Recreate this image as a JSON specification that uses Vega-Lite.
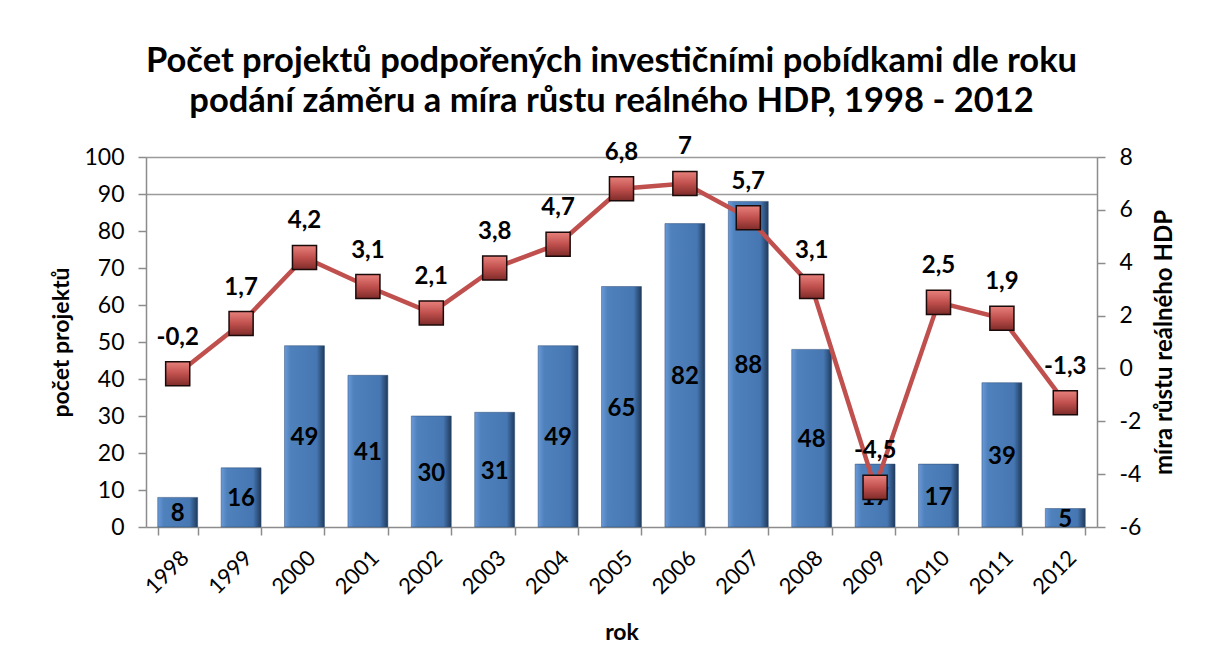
{
  "$schema": "https://vega.github.io/schema/vega-lite/v6.json",
  "width": 951,
  "height": 370,
  "autosize": {"type": "none"},
  "padding": {"left": 146, "top": 157, "right": 108, "bottom": 145},
  "background": "white",
  "config": {
    "view": {"stroke": null},
    "font": "Lato",
    "locale": {
      "number": {"decimal": ",", "thousands": " ", "grouping": [3], "currency": ["", " Kč"], "minus": "-"}
    },
    "axis": {
      "labelFont": "Lato",
      "titleFont": "Lato",
      "labelColor": "#000000",
      "titleColor": "#000000",
      "domainColor": "#8C8C8C",
      "tickColor": "#8C8C8C",
      "domainWidth": 1.5,
      "tickWidth": 1.5,
      "tickSize": 8,
      "labelFontSize": 23,
      "titleFontSize": 23,
      "titleFontWeight": "bold"
    }
  },
  "title": {
    "text": ["Počet projektů podpořených investičními pobídkami dle roku", "podání záměru a míra růstu reálného HDP, 1998 - 2012"],
    "font": "Lato",
    "fontSize": 34.5,
    "fontWeight": "bold",
    "color": "#000000",
    "anchor": "middle",
    "lineHeight": 40,
    "offset": 16,
    "dx": -10
  },
  "data": {
    "values": [
      {"rok": "1998", "projekty": 8, "hdp": -0.2},
      {"rok": "1999", "projekty": 16, "hdp": 1.7},
      {"rok": "2000", "projekty": 49, "hdp": 4.2},
      {"rok": "2001", "projekty": 41, "hdp": 3.1},
      {"rok": "2002", "projekty": 30, "hdp": 2.1},
      {"rok": "2003", "projekty": 31, "hdp": 3.8},
      {"rok": "2004", "projekty": 49, "hdp": 4.7},
      {"rok": "2005", "projekty": 65, "hdp": 6.8},
      {"rok": "2006", "projekty": 82, "hdp": 7},
      {"rok": "2007", "projekty": 88, "hdp": 5.7},
      {"rok": "2008", "projekty": 48, "hdp": 3.1},
      {"rok": "2009", "projekty": 17, "hdp": -4.5},
      {"rok": "2010", "projekty": 17, "hdp": 2.5},
      {"rok": "2011", "projekty": 39, "hdp": 1.9},
      {"rok": "2012", "projekty": 5, "hdp": -1.3}
    ]
  },
  "encoding": {
    "x": {
      "field": "rok",
      "type": "ordinal",
      "scale": {"paddingInner": 0.37, "paddingOuter": 0.185},
      "axis": {
        "title": "rok",
        "labelAngle": -45,
        "labelFontSize": 22,
        "labelPadding": 12,
        "tickBand": "extent",
        "titlePadding": 24
      }
    }
  },
  "layer": [
    {
      "mark": {
        "type": "bar",
        "stroke": "#2E4C75",
        "strokeWidth": 0.5,
        "color": {
          "gradient": "linear",
          "x1": 0, "y1": 0, "x2": 1, "y2": 0,
          "stops": [
            {"offset": 0, "color": "#6A9AD8"},
            {"offset": 0.15, "color": "#4F81BD"},
            {"offset": 0.8, "color": "#4677B2"},
            {"offset": 1, "color": "#1F3A5C"}
          ]
        }
      },
      "encoding": {
        "y": {
          "field": "projekty",
          "type": "quantitative",
          "scale": {"domain": [0, 100], "nice": false},
          "axis": {
            "orient": "left",
            "title": "počet projektů",
            "values": [0, 10, 20, 30, 40, 50, 60, 70, 80, 90, 100],
            "labelPadding": 14,
            "titlePadding": 10,
            "grid": true,
            "gridColor": "#9A9A9A",
            "gridWidth": 1.5,
            "gridOpacity": {"condition": {"test": "datum.value >= 90", "value": 1}, "value": 0}
          }
        }
      }
    },
    {
      "mark": {"type": "text", "fontSize": 24, "fontWeight": "bold", "font": "Lato", "color": "#000000", "baseline": "middle", "align": "center"},
      "encoding": {
        "y": {
          "field": "projekty",
          "type": "quantitative",
          "scale": {"domain": [0, 200], "nice": false},
          "axis": null
        },
        "yOffset": {"condition": {"test": "datum.projekty < 10", "value": -13}, "value": 2},
        "text": {"field": "projekty", "type": "quantitative"}
      }
    },
    {
      "encoding": {
        "y": {
          "field": "hdp",
          "type": "quantitative",
          "scale": {"domain": [-6, 8], "nice": false},
          "axis": {
            "orient": "right",
            "title": "míra růstu reálného HDP",
            "titleAngle": 270,
            "titleBaseline": "top",
            "titleFontSize": 24,
            "values": [-6, -4, -2, 0, 2, 4, 6, 8],
            "labelPadding": 14,
            "titlePadding": 12,
            "grid": false
          }
        }
      },
      "layer": [
        {
          "mark": {"type": "line", "color": "#C0504D", "strokeWidth": 4.5}
        },
        {
          "mark": {
            "type": "point",
            "shape": "square",
            "size": 580,
            "filled": true,
            "opacity": 1,
            "stroke": "#1A0A0A",
            "strokeWidth": 1.5,
            "color": {
              "gradient": "linear",
              "x1": 0, "y1": 0, "x2": 0, "y2": 1,
              "stops": [
                {"offset": 0, "color": "#E8817C"},
                {"offset": 0.5, "color": "#C0504D"},
                {"offset": 1, "color": "#7E2B29"}
              ]
            }
          }
        },
        {
          "mark": {"type": "text", "fontSize": 24, "fontWeight": "bold", "font": "Lato", "color": "#000000", "baseline": "middle", "align": "center", "dy": -36},
          "encoding": {
            "text": {"field": "hdp", "type": "quantitative", "format": "~g"}
          }
        }
      ]
    }
  ],
  "resolve": {"scale": {"y": "independent"}}
}
